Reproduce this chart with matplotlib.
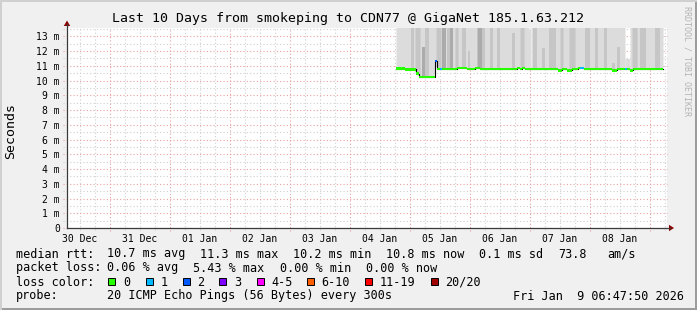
import numpy as np
import matplotlib
matplotlib.use("Agg")
import matplotlib.pyplot as plt
from matplotlib.lines import Line2D
from matplotlib.patches import Rectangle, Polygon

plt.rcParams['font.family'] = ['DejaVu Sans Mono']

# ---------------- data ----------------
title = "Last 10 Days from smokeping to CDN77 @ GigaNet 185.1.63.212"
day_labels = ["30 Dec", "31 Dec", "01 Jan", "02 Jan", "03 Jan",
              "04 Jan", "05 Jan", "06 Jan", "07 Jan", "08 Jan"]
y_ticks = list(range(0, 14))          # milliseconds
# window: 30 Dec 06:47:50 -> 09 Jan 06:47:50 (days since 30 Dec 00:00)
x_start_day = 0.28322
x_end_day = 10.28322

# median rtt (ms) as steps; hours since 04 Jan 00:00, loss = lost pings of 20
med_h = [18.4, 22.0, 26.4, 27.6, 34.0, 34.8, 36.0, 36.8, 42.8, 46.8, 50.0, 52.0,
         66.8, 68.0, 68.8, 70.0, 83.2, 84.8, 86.8, 88.8, 91.2, 92.0, 93.6,
         104.8, 106.8, 110.0, 110.8, 112.0, 113.2]
med_v = [10.82, 10.76, 10.48, 10.25, 11.32, 10.78, 10.78, 10.78, 10.85, 10.78, 10.85, 10.78,
         10.85, 10.78, 10.85, 10.78, 10.69, 10.78, 10.69, 10.78, 10.85, 10.85, 10.78,
         10.69, 10.78, 10.78, 10.78, 10.69, 10.78]
med_loss = [0, 0, 0, 0, 2, 0, 1, 0, 0, 0, 0, 0,
            0, 0, 0, 0, 0, 0, 0, 0, 0, 1, 0,
            0, 0, 1, 0, 0, 0]
med_end_h = 125.2

# outer smoke (slowest ping) tops, ms; segments start hours
smoke_h = [18.4, 71.6, 72.4, 110.0, 112.0]
smoke_top = [14.5, 13.4, 14.5, 11.5, 14.5]

# denser smoke columns: start/end hours, top (ms), density level (1 or 2)
ov_start = [24.4, 26.0, 28.8, 30.0, 34.4, 36.8, 38.8, 40.0, 42.0, 44.8, 47.2, 50.8,
            52.8, 56.0, 58.8, 64.8, 68.0, 73.2, 76.8, 79.6, 84.0, 87.6, 94.0, 98.0,
            101.6, 104.8, 106.8, 112.8, 116.0, 122.0]
ov_end = [25.6, 28.0, 30.0, 31.6, 36.4, 38.4, 40.0, 41.2, 43.2, 46.4, 48.0, 52.8,
          54.0, 57.2, 60.0, 66.0, 69.6, 74.8, 78.0, 82.4, 85.2, 90.0, 96.0, 99.2,
          102.8, 106.0, 108.0, 114.8, 118.4, 124.0]
ov_top = [14.5, 14.5, 12.3, 14.5, 14.5, 14.5, 14.5, 14.5, 14.5, 14.5, 12.0, 14.5,
          14.5, 14.5, 14.5, 13.2, 14.5, 14.5, 12.2, 14.5, 14.5, 14.5, 14.5, 14.5,
          14.5, 11.2, 12.3, 14.5, 14.5, 14.5]
ov_level = [1, 1, 2, 1, 1, 2, 1, 2, 1, 1, 1, 2,
            1, 1, 1, 1, 1, 1, 1, 1, 1, 1, 1, 1,
            1, 1, 1, 1, 1, 1]

loss_names = ["0", "1", "2", "3", "4-5", "6-10", "11-19", "20/20"]
loss_colors = ["#26ff00", "#00b8ff", "#0059ff", "#7e00ff", "#ff00ff",
               "#ff5e00", "#ff0000", "#a10000"]

stats_row1 = [("median rtt:", 16), ("10.7 ms avg", 107.3), ("11.3 ms max", 200),
              ("10.2 ms min", 292.7), ("10.8 ms now", 386), ("0.1 ms sd", 479.3),
              ("73.8", 558.3), ("am/s", 607.3)]
stats_row2 = [("packet loss:", 16), ("0.06 % avg", 107.3), ("5.43 % max", 193.4),
              ("0.00 % min", 279.5), ("0.00 % now", 365.5)]
probe_text = "20 ICMP Echo Pings (56 Bytes) every 300s"
stamp_text = "Fri Jan  9 06:47:50 2026"

# ---------------- figure ----------------
W, H = 697, 310
fig = plt.figure(figsize=(W / 100, H / 100), dpi=100, facecolor="#f0f0f0")
L, R, T, B = 67, 667, 28, 228
ax = fig.add_axes([L / W, 1 - B / H, (R - L) / W, (B - T) / H], facecolor="white")
ax.set_xlim(x_start_day, x_end_day)
ax.set_ylim(0, 200 / 14.74)
for s in ax.spines.values():
    s.set_visible(False)


def hd(h):
    return 5 + np.asarray(h, dtype=float) / 24.0


def P(x, y):
    return (x / W, 1 - y / H)


# grid
minor_c, major_c = "#cfcfcf", "#eaa0a0"
dots = (0, (1, 2))
xt = ax.get_xaxis_transform()
yt = ax.get_yaxis_transform()
for k in range(0, 44):
    d = k * 0.25
    if d < x_start_day or d > x_end_day:
        continue
    major = (k % 4 == 0)
    ax.plot([d, d], [-0.015 if major else -0.01, 1], transform=xt, clip_on=False,
            color=major_c if major else minor_c, lw=0.8, ls=dots, zorder=1)
for k in range(0, 28):
    v = k * 0.5
    if v > 13.57:
        continue
    major = (k % 2 == 0)
    ax.plot([-0.007, 1], [v, v], transform=yt, clip_on=False,
            color=major_c if major else minor_c, lw=0.8, ls=dots, zorder=1)

# smoke
med_x = hd(med_h)
med_edges = np.append(med_x, hd(med_end_h))


def med_at(d):
    i = np.searchsorted(med_edges, d, side="right") - 1
    i = np.clip(i, 0, len(med_v) - 1)
    return np.asarray(med_v)[i]


sm_edges = np.append(hd(smoke_h), hd(med_end_h))
for i in range(len(smoke_h)):
    a, b = sm_edges[i], sm_edges[i + 1]
    xs = np.linspace(a, b, 40)
    ax.fill_between(xs, med_at(xs), smoke_top[i], color="#dcdcdc", lw=0, zorder=2)
lvl_col = {1: "#c6c6c6", 2: "#ababab"}
for a, b, t, lv in zip(ov_start, ov_end, ov_top, ov_level):
    xs = np.linspace(hd(a), hd(b), 20)
    ax.fill_between(xs, med_at(xs), t, color=lvl_col[lv], lw=0, zorder=3)

# median line (black step + loss-coloured band)
ax.step(np.append(med_x, hd(med_end_h)), np.append(med_v, med_v[-1]), where="post",
        color="#000000", lw=0.8, zorder=4)
band = 2.6 / 14.74
loss_bucket = [0, 1, 2, 3, 4, 4, 5, 5, 5, 5, 5, 6, 6, 6, 6, 6, 6, 6, 6, 6, 7]
for i in range(len(med_v)):
    a, b = med_edges[i], med_edges[i + 1]
    c = loss_colors[loss_bucket[med_loss[i]]]
    ax.add_patch(Rectangle((a, med_v[i] - band / 2), b - a, band, color=c, lw=0, zorder=5))

# ticks / labels
ax.set_xticks([d + 0.5 for d in range(10)], day_labels)
ax.set_yticks(y_ticks, ["0" if v == 0 else f"{v} m" for v in y_ticks])
ax.tick_params(axis="x", length=0, pad=4.2, labelsize=7, colors="#000000")
ax.tick_params(axis="y", length=0, pad=5.2, labelsize=7, colors="#000000")

# axes with arrows
axis_c = "#3a3a3a"
fig.add_artist(Line2D([P(L, B)[0], P(670, B)[0]], [P(L, B)[1]] * 2, color=axis_c, lw=0.9))
fig.add_artist(Line2D([P(L, B)[0]] * 2, [P(L, B)[1], P(L, 24)[1]], color=axis_c, lw=0.9))
fig.add_artist(Polygon([P(669, 224.8), P(674, 228), P(669, 231.2)], closed=True,
                       color="#8b0000", lw=0))
fig.add_artist(Polygon([P(63.8, 26), P(67, 20.5), P(70.2, 26)], closed=True,
                       color="#8b0000", lw=0))

# title / unit / credit
fig.text(*P(348, 18.5), title, ha="center", va="center", fontsize=9.5)
fig.text(*P(10.5, 131), "Seconds", rotation=90, ha="center", va="center", fontsize=9.5)
fig.text(*P(687, 6), "RRDTOOL / TOBI OETIKER", rotation=270, ha="center", va="top",
         fontsize=6, color="#b4b4b4")

# legend rows
fs = 8.5
for txt, x in stats_row1:
    fig.text(*P(x, 254), txt, ha="left", va="center", fontsize=fs)
for txt, x in stats_row2:
    fig.text(*P(x, 268), txt, ha="left", va="center", fontsize=fs)
fig.text(*P(16, 282), "loss color:", ha="left", va="center", fontsize=fs)
sw_x = [108.3, 145.7, 182.7, 219.3, 256.7, 306.7, 365, 430.7]
for name, col, x in zip(loss_names, loss_colors, sw_x):
    x0, y0 = P(x, 285)
    fig.add_artist(Rectangle((x0, y0), 7 / W, 7 / H, facecolor=col, edgecolor="black",
                             lw=0.7, transform=fig.transFigure))
    fig.text(*P(x + 14.5, 282), name, ha="left", va="center", fontsize=fs)
fig.text(*P(16, 296), "probe:", ha="left", va="center", fontsize=fs)
fig.text(*P(107.3, 296), probe_text, ha="left", va="center", fontsize=fs)
fig.text(*P(513.3, 296), stamp_text, ha="left", va="center", fontsize=fs)

# frame shading
fig.add_artist(Rectangle((0, 0), 1, 2 / H, color="#9c9c9c", lw=0, transform=fig.transFigure))
fig.add_artist(Rectangle((1 - 2 / W, 0), 2 / W, 1, color="#9c9c9c", lw=0, transform=fig.transFigure))
fig.add_artist(Rectangle((0, 1 - 2 / H), 1, 2 / H, color="#d0d0d0", lw=0, transform=fig.transFigure))
fig.add_artist(Rectangle((0, 0), 2 / W, 1, color="#d0d0d0", lw=0, transform=fig.transFigure))

fig.savefig("out.png", dpi=100, facecolor=fig.get_facecolor())
